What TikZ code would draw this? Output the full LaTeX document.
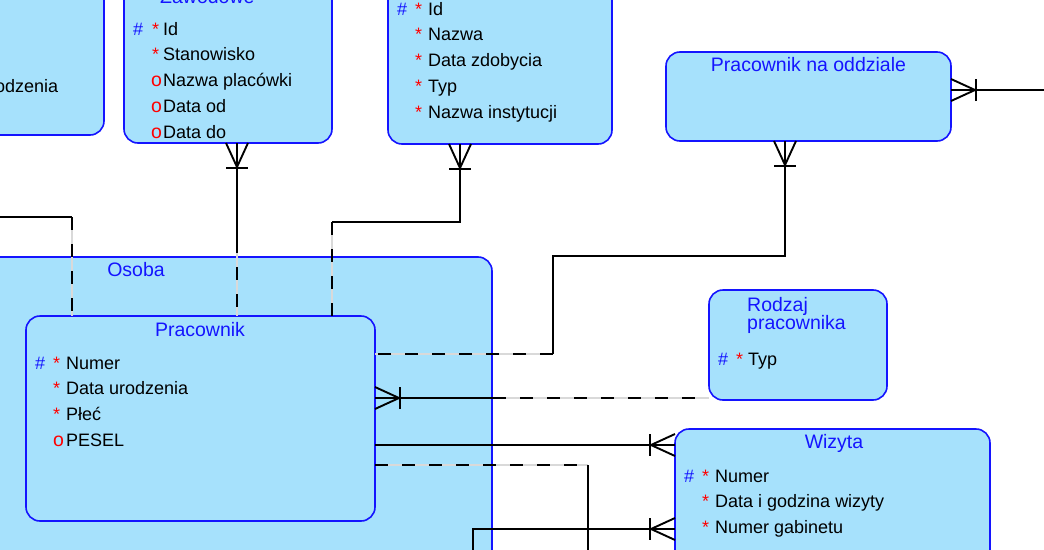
\documentclass[tikz,border=0pt]{standalone}
\usepackage{fontspec}
\setmainfont{Liberation Sans}
\usetikzlibrary{calc}

\definecolor{tloencji}{RGB}{166,225,252}
\definecolor{ramka}{RGB}{20,20,255}

\begin{document}
\begin{tikzpicture}[x=1pt, y=-1pt,
    encja/.style={draw=ramka, fill=tloencji, line width=1.6pt, rounded corners=14pt, inner sep=0pt, outer sep=0pt},
    tytul/.style={text=ramka, font=\fontsize{19.5}{20}\selectfont, inner sep=0pt, anchor=base},
    atr/.style={font=\fontsize{18}{20}\selectfont, inner sep=0pt, anchor=base west},
    klucz/.style={atr, text=ramka},
    wym/.style={atr, text=red},
    nwym/.style={atr, text=red, font=\fontsize{19.5}{20}\selectfont},
    rel/.style={draw=black, line width=1.9pt},
    opc/.style={rel, dash pattern=on 13pt off 14pt, preaction={draw=black!15, solid, line width=1.9pt}},
    crow/.pic={\draw[rel] (-11,0) -- (0,24) -- (11,0); \draw[rel] (-11,25) -- (11,25);}
  ]
  \fill[white] (0,0) rectangle (1044,549);
  \useasboundingbox (0,0) rectangle (1044,549);
  \clip (0,0) rectangle (1044,549);

  % encje
  \node[encja, minimum width=304pt, minimum height=235pt] (lewa) at (-48,17.5) {};
  \node[encja, minimum width=208pt, minimum height=263pt] (zaw) at (228,11.5) {};
  \node[encja, minimum width=224pt, minimum height=264pt] (cert) at (500,12) {};
  \node[encja, minimum width=285pt, minimum height=89pt] (pno) at (808.5,96.5) {};
  \node[encja, minimum width=592pt, minimum height=443pt] (osoba) at (196,478.5) {};
  \node[encja, minimum width=349pt, minimum height=205pt] (prac) at (200.5,418.5) {};
  \node[encja, minimum width=178pt, minimum height=110pt] (rodzaj) at (798,345) {};
  \node[encja, minimum width=315pt, minimum height=271pt] (wizyta) at (832.5,564.5) {};

  % tytuly
  \node[tytul, anchor=base west] (t-zaw) at (160,3) {Zawodowe};
  \node[tytul] (t-pno) at (808.5,71.7) {Pracownik na oddziale};
  \node[tytul] (t-osoba) at (136,276) {Osoba};
  \node[tytul] (t-prac) at (200,336) {Pracownik};
  \node[tytul, anchor=base west] (t-rodz1) at (747,311.7) {Rodzaj};
  \node[tytul, anchor=base west] (t-rodz2) at (747,329.3) {pracownika};
  \node[tytul] (t-wiz) at (834,448) {Wizyta};

  % atrybuty
  \node[atr, anchor=base east] (lw) at (58.3,92.7) {odzenia};

  \foreach \t [count=\i] in {Id, Stanowisko, Nazwa placówki, Data od, Data do}
    \node[atr] (za\i) at (163,{35+25.8*(\i-1)}) {\t};
  \node[klucz] (zk) at (133,35) {\#};
  \foreach \i in {1,2}
    \node[wym] (zw\i) at (152,{35+25.8*(\i-1)}) {*};
  \foreach \i in {3,4,5}
    \node[nwym] (zo\i) at (151,{35+25.8*(\i-1)}) {o};

  \foreach \t [count=\i] in {Id, Nazwa, Data zdobycia, Typ, Nazwa instytucji}
    \node[atr] (ca\i) at (428,{15+25.8*(\i-1)}) {\t};
  \node[klucz] (ck) at (397,15) {\#};
  \foreach \i in {1,...,5}
    \node[wym] (cw\i) at (415,{15+25.8*(\i-1)}) {*};

  \foreach \t [count=\i] in {Numer, Data urodzenia, Płeć, PESEL}
    \node[atr] (pa\i) at (66,{369+25.9*(\i-1)}) {\t};
  \node[klucz] (pk) at (35,369) {\#};
  \foreach \i in {1,2,3}
    \node[wym] (pw\i) at (53,{369+25.9*(\i-1)}) {*};
  \node[nwym] (po4) at (53,446.7) {o};

  \node[atr] (ra1) at (748,365) {Typ};
  \node[klucz] (rk) at (718,365) {\#};
  \node[wym] (rw1) at (736,365) {*};

  \foreach \t [count=\i] in {Numer, Data i godzina wizyty, Numer gabinetu}
    \node[atr] (wa\i) at (715,{482+25.8*(\i-1)}) {\t};
  \node[klucz] (wk) at (684,482) {\#};
  \foreach \i in {1,2,3}
    \node[wym] (ww\i) at (702,{482+25.8*(\i-1)}) {*};

  % relacje
  \coordinate (l1) at (-10,217);
  \coordinate (l2) at (72,217);
  \draw[rel] (l1) -- (l2);
  \draw[opc] (l2) -- (l2 |- prac.north);

  \coordinate (z1) at (237,240);
  \draw[rel] (zaw.south -| z1) -- (z1);
  \draw[opc] (z1) -- (z1 |- prac.north);
  \pic at (zaw.south -| z1) {crow};

  \coordinate (c1) at (460,222);
  \coordinate (c2) at (332,222);
  \draw[rel] (cert.south -| c1) -- (c1) -- (c2);
  \draw[opc] (c2) -- (c2 |- prac.north);
  \pic at (cert.south -| c1) {crow};

  \coordinate (p1) at (785,256);
  \coordinate (p2) at (553,256);
  \coordinate (p3) at (553,354);
  \draw[rel] (pno.south -| p1) -- (p1) -- (p2) -- (p3);
  \draw[opc] (p3) -- (p3 -| prac.east);
  \pic at (pno.south -| p1) {crow};

  \coordinate (r1) at (493,398);
  \draw[rel] (prac.east |- r1) -- (r1);
  \draw[opc] (r1) -- (r1 -| rodzaj.west);
  \pic[rotate=90] at (prac.east |- r1) {crow};

  \coordinate (w1) at (600,445);
  \draw[rel] (prac.east |- w1) -- (w1 -| wizyta.west);
  \pic[rotate=-90] at (w1 -| wizyta.west) {crow};

  \coordinate (d1) at (588,465);
  \coordinate (d2) at (588,560);
  \draw[opc] (prac.east |- d1) -- (d1);
  \draw[rel] (d1) -- (d2);

  \coordinate (e1) at (473,529);
  \coordinate (e2) at (473,560);
  \draw[rel] (e2) -- (e1) -- (e1 -| wizyta.west);
  \pic[rotate=-90] at (e1 -| wizyta.west) {crow};

  \coordinate (o1) at (1060,90);
  \draw[rel] (pno.east |- o1) -- (o1);
  \pic[rotate=90] at (pno.east |- o1) {crow};
\end{tikzpicture}
\end{document}
